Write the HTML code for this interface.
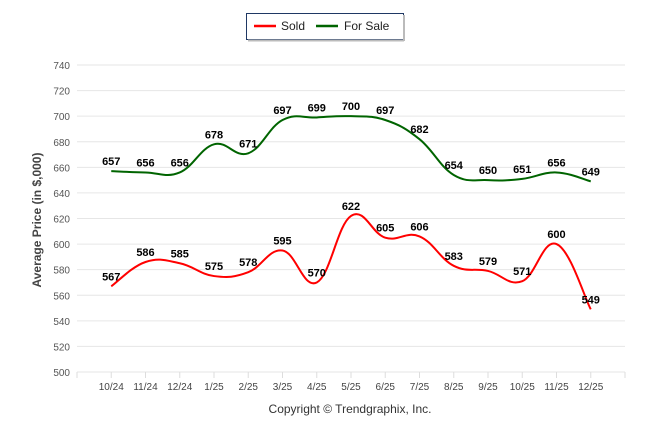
<!DOCTYPE html>
<html><head><meta charset="utf-8"><style>
body{margin:0;background:#fff;width:646px;height:434px;overflow:hidden;font-family:"Liberation Sans",Arial,sans-serif}
</style></head><body>
<svg width="646" height="434" id="chart">
<g>
<rect x="246.5" y="13.5" width="157" height="26" fill="#fff" stroke="#1f3864" stroke-width="1"/>
<line x1="404" y1="15" x2="404" y2="41" stroke="#bbb" stroke-width="2"/>
<line x1="248" y1="40.5" x2="404" y2="40.5" stroke="#bbb" stroke-width="2"/>
<line x1="254" y1="26" x2="276" y2="26" stroke="#ff0000" stroke-width="2.5"/>
<text x="281" y="30" font-size="12" fill="#222">Sold</text>
<line x1="316" y1="26" x2="338" y2="26" stroke="#006400" stroke-width="2.5"/>
<text x="344" y="30" font-size="12" fill="#222">For Sale</text>
</g>
<g id="grid"></g><g id="series"></g><g id="labels"></g>
<text transform="translate(41,220) rotate(-90)" text-anchor="middle" font-size="12" font-weight="bold" fill="#444">Average Price (in $,000)</text>
<text x="350" y="413" text-anchor="middle" font-size="12" fill="#333">Copyright © Trendgraphix, Inc.</text>
</svg>
<script>
const categories=["10/24","11/24","12/24","1/25","2/25","3/25","4/25","5/25","6/25","7/25","8/25","9/25","10/25","11/25","12/25"];
const sold=[567,586,585,575,578,595,570,622,605,606,583,579,571,600,549];
const forSale=[657,656,656,678,671,697,699,700,697,682,654,650,651,656,649];
const yTicks=[500,520,540,560,580,600,620,640,660,680,700,720,740];
const NS="http://www.w3.org/2000/svg";
const L=77,R=625,step=(R-L)/16;
function x(i){return L+step*(i+1);}
function y(v){return 372-(v-500)*(307/240);}
function mk(tag,attrs,parent){const e=document.createElementNS(NS,tag);for(const k in attrs)e.setAttribute(k,attrs[k]);parent.appendChild(e);return e;}
const grid=document.getElementById('grid');
yTicks.forEach(t=>{
  const g=mk('line',{x1:L,x2:R,y1:y(t),y2:y(t),stroke:'#e6e6e6','stroke-width':1},grid);
  
  
  const tx=mk('text',{x:L-7,y:y(t)+4,'text-anchor':'end','font-size':10,fill:'#555'},grid);
  tx.textContent=t;
  
  
});
const tickXs=[L,R];categories.forEach((c,i)=>tickXs.push(x(i)));
tickXs.forEach(tx0=>{mk('line',{x1:tx0,x2:tx0,y1:372,y2:378,stroke:'#ddd'},grid);});
categories.forEach((c,i)=>{
  const t=mk('text',{x:x(i),y:390,'text-anchor':'middle','font-size':10,fill:'#444'},grid);
  t.textContent=c;
  
  
});
function path(vals){
  const p=vals.map((v,i)=>[x(i),y(v)]);
  let d='M'+p[0][0]+','+p[0][1];
  const k=0.2;
  for(let i=0;i<p.length-1;i++){
    const p0=p[Math.max(0,i-1)],p1=p[i],p2=p[i+1],p3=p[Math.min(p.length-1,i+2)];
    const c1=[p1[0]+(p2[0]-p0[0])*k,p1[1]+(p2[1]-p0[1])*k];
    const c2=[p2[0]-(p3[0]-p1[0])*k,p2[1]-(p3[1]-p1[1])*k];
    d+=` C${c1[0]},${c1[1]} ${c2[0]},${c2[1]} ${p2[0]},${p2[1]}`;
  }
  return d;
}
const series=document.getElementById('series'),labels=document.getElementById('labels');
[[forSale,'#006400','for-sale-line'],[sold,'#ff0000','sold-line']].forEach(([vals,col,name])=>{
  const l=mk('path',{d:path(vals),fill:'none',stroke:col,'stroke-width':2},series);
  
  
  vals.forEach((v,i)=>{
    const t=mk('text',{x:x(i),y:y(v)-6,'text-anchor':'middle','font-size':11,'font-weight':'bold',fill:'#000'},labels);
    t.textContent=v;
    
    
  });
});
</script>
</body></html>
